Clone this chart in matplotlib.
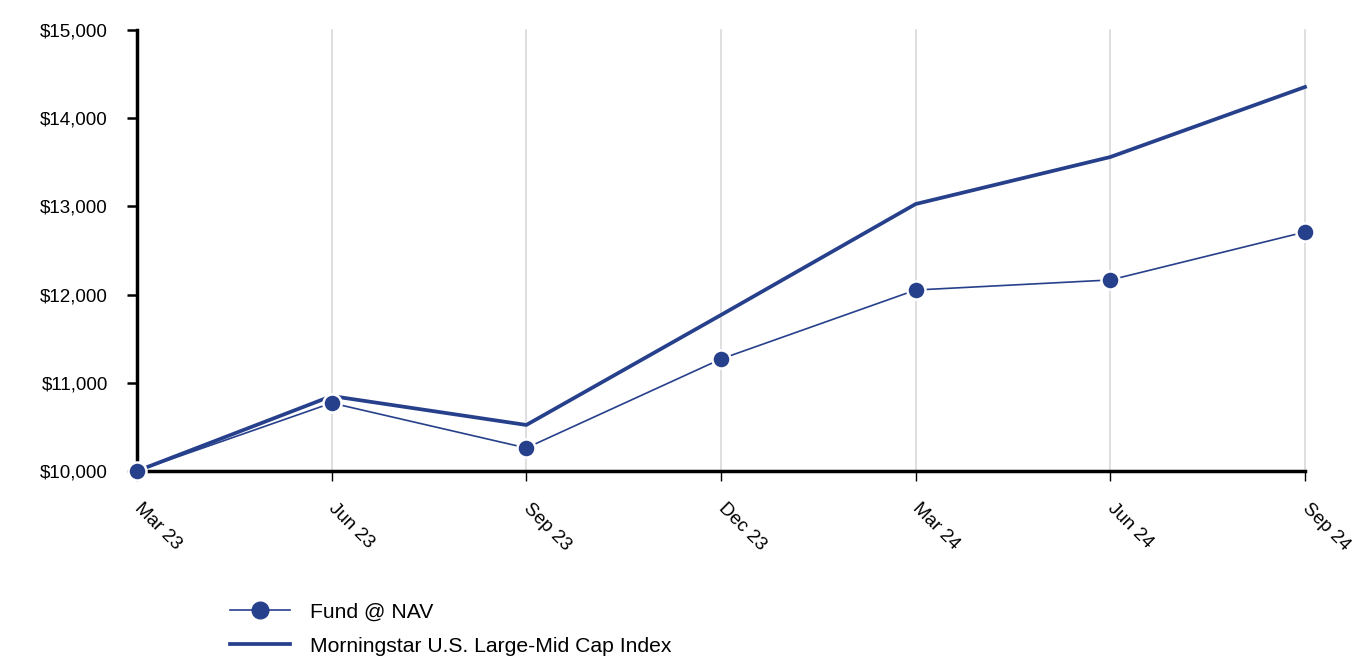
import matplotlib
matplotlib.use("Agg")
import matplotlib.pyplot as plt
from matplotlib.ticker import FuncFormatter
from matplotlib.lines import Line2D

plt.rcParams['font.family'] = ['Liberation Sans', 'DejaVu Sans']

dates = ["Mar 23", "Jun 23", "Sep 23", "Dec 23", "Mar 24", "Jun 24", "Sep 24"]
fund = [10000, 10771, 10261, 11270, 12052, 12166, 12710]
index = [10000, 10850, 10522, 11769, 13027, 13560, 14354]
yticks = [10000, 11000, 12000, 13000, 14000, 15000]
labels = ["Fund @ NAV", "Morningstar U.S. Large-Mid Cap Index"]

color = '#27408b'

fig = plt.figure(figsize=(13.68, 6.6), dpi=100)
ax = fig.add_axes([137/1368, 1-471/660, (1305-137)/1368, (471-30)/660])

x = list(range(len(dates)))
ax.plot(x, index, color=color, lw=2.7, zorder=3, clip_on=False)
ax.plot(x, fund, color=color, lw=1.2, marker='o', ms=13, mfc=color,
        mec='white', mew=1.8, zorder=4, clip_on=False)

ax.set_xlim(0, len(dates) - 1)
ax.set_ylim(10000, 15000)
ax.set_yticks(yticks)
ax.yaxis.set_major_formatter(FuncFormatter(lambda v, p: f"${v:,.0f}"))
ax.set_xticks(x)
ax.set_xticklabels(dates, rotation=-45, ha='left', va='center', rotation_mode='anchor')

ax.grid(axis='x', color='#d9d9d9', lw=1.2, zorder=0)
for gl in ax.get_xgridlines():
    gl.set_clip_on(False)
ax.grid(axis='y', visible=False)
for s in ['top', 'right']:
    ax.spines[s].set_visible(False)
for s in ['left', 'bottom']:
    ax.spines[s].set_linewidth(2.5)
    ax.spines[s].set_color('black')
    ax.spines[s].set_zorder(2)

ax.tick_params(axis='y', length=7, width=1.8, labelsize=13.5, pad=14, colors='black')
ax.tick_params(axis='x', length=7, width=1, labelsize=13.5, pad=18, colors='black')

h_fund = Line2D([], [], color=color, lw=1.2, marker='o', ms=12, mfc=color, mec=color)
h_idx = Line2D([], [], color=color, lw=2.7)
fig.legend([h_fund, h_idx], labels, loc='upper left',
           bbox_to_anchor=(222/1368, 1-594/660), frameon=False,
           fontsize=15.2, handlelength=2.8, handletextpad=0.95,
           labelspacing=0.72, borderaxespad=0)

fig.savefig("out.png", dpi=100)
